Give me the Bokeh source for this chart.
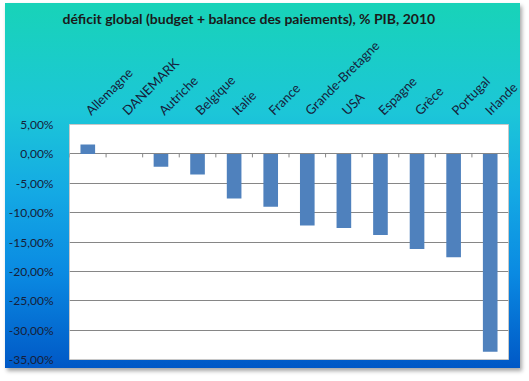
import math
from bokeh.plotting import figure
from bokeh.models import FixedTicker, ColumnDataSource
from bokeh.embed import file_html
from bokeh.resources import INLINE

title = "déficit global (budget + balance des paiements), % PIB,  2010"
countries = ["Allemagne", "DANEMARK", "Autriche", "Belgique", "Italie", "France",
             "Grande-Bretagne", "USA", "Espagne", "Grèce", "Portugal", "Irlande"]
values = [1.6, 0.0, -2.2, -3.5, -7.6, -9.0, -12.2, -12.6, -13.8, -16.2, -17.6, -33.7]
y_ticks = [5, 0, -5, -10, -15, -20, -25, -30, -35]
y_tick_labels = ["5,00%", "0,00%", "-5,00%", "-10,00%", "-15,00%", "-20,00%",
                 "-25,00%", "-30,00%", "-35,00%"]

FONT = "Lato"
TXT = "#16203a"

xs = list(range(len(countries)))
src = ColumnDataSource(dict(x=xs, top=values, name=countries))

p = figure(width=515, height=365, x_range=(-0.5, len(countries) - 0.5),
           y_range=(min(y_ticks), max(y_ticks)),
           output_backend="svg", toolbar_location=None, x_axis_location="above",
           min_border_left=62, min_border_right=12, min_border_top=121,
           min_border_bottom=9)
p.styles = {"background": "linear-gradient(to bottom, #18d3b8 0%, #1cc6d8 30%, #14a9e4 52%, #0a8ae2 74%, #0058c6 100%)",
            "box-shadow": "2px 3px 4px rgba(0,0,0,0.35)",
            "transform": "translate(5px, 3px)"}
p.border_fill_alpha = 0
p.background_fill_color = "white"
p.outline_line_color = "#c8c8c8"

p.title.text = title
p.title.align = "left"
p.title.offset = -7
p.title.text_font = FONT
p.title.text_font_size = "14px"
p.title.text_font_style = "bold"
p.title.text_color = "#1a1a1a"
p.title.standoff = 4

p.vbar(x="x", top="top", bottom=0, width=0.4, source=src,
       fill_color="#4f81bd", line_color=None)

# zero line with category boundary ticks
bounds = [i - 0.5 for i in range(len(countries) + 1)]
p.segment(x0=bounds, y0=[0] * len(bounds), x1=bounds, y1=[-0.6] * len(bounds),
          color="#868686", line_width=1)

xa = p.xaxis[0]
xa.ticker = FixedTicker(ticks=xs)
xa.major_label_overrides = {i: c for i, c in enumerate(countries)}
xa.major_label_orientation = math.pi / 4
xa.axis_line_color = None
xa.major_tick_line_color = None
xa.minor_tick_line_color = None
xa.major_label_text_font = FONT
xa.major_label_text_font_size = "13px"
xa.major_label_text_color = TXT
xa.major_label_standoff = 6

ya = p.yaxis[0]
ya.ticker = FixedTicker(ticks=y_ticks)
ya.major_label_overrides = {t: l for t, l in zip(y_ticks, y_tick_labels)}
ya.axis_line_color = None
ya.major_tick_line_color = None
ya.minor_tick_line_color = None
ya.major_label_text_font = FONT
ya.major_label_text_font_size = "12px"
ya.major_label_text_color = TXT
ya.major_label_standoff = 10

p.xgrid.visible = False
p.ygrid[0].ticker = FixedTicker(ticks=y_ticks[1:-1])
p.ygrid[0].grid_line_color = "#868686"

open("out.html", "w").write(file_html(p, INLINE))
